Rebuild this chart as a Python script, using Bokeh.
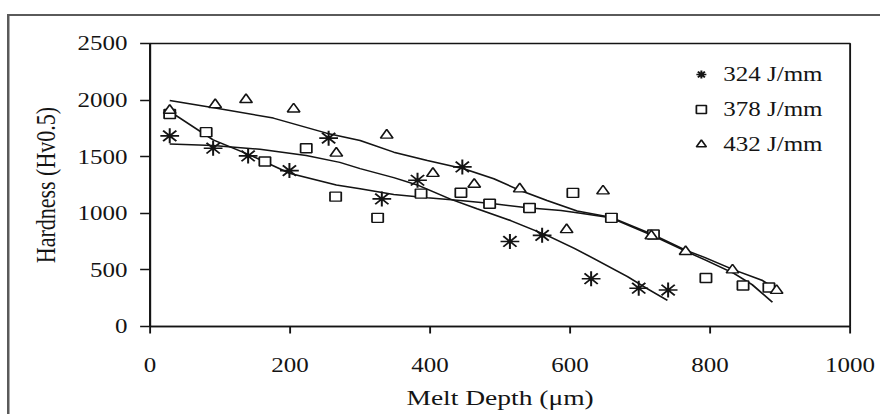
from bokeh.plotting import figure
from bokeh.models import Range1d, FixedTicker, Legend, LegendItem
from bokeh.embed import file_html
from bokeh.resources import INLINE

# --- measured hardness profiles (Hv0.5) against melt depth (um) ---
depth_324 = [28, 90, 140, 199, 255, 331, 382, 446, 514, 560, 630, 698, 740]
hard_324 = [1684, 1575, 1507, 1377, 1664, 1127, 1292, 1410, 751, 805, 422, 338, 322]

depth_378 = [28, 80, 164, 223, 265, 325, 387, 444, 485, 542, 604, 659, 719, 794, 847, 884]
hard_378 = [1877, 1717, 1457, 1575, 1147, 960, 1174, 1182, 1085, 1047, 1180, 960, 813, 429, 362, 345]

depth_432 = [28, 93, 137, 205, 266, 338, 404, 463, 528, 595, 647, 716, 765, 832, 895]
hard_432 = [1909, 1959, 2004, 1921, 1531, 1690, 1352, 1256, 1215, 855, 1197, 800, 662, 499, 318]

# --- trend curves through each data set ---
trend_x_324 = [28, 90, 157, 223, 271, 300, 348, 384, 429, 467, 515, 567, 606, 634, 682, 710, 739]
trend_y_324 = [1613, 1600, 1566, 1510, 1450, 1395, 1315, 1245, 1125, 1040, 936, 805, 690, 600, 440, 335, 230]

trend_x_378 = [28, 90, 142, 199, 266, 300, 348, 396, 443, 491, 539, 587, 615, 658, 717, 765, 792, 834, 860, 889]
trend_y_378 = [1900, 1649, 1516, 1354, 1250, 1216, 1166, 1137, 1113, 1084, 1048, 1025, 1000, 960, 805, 665, 590, 470, 370, 215]

trend_x_432 = [28, 93, 176, 252, 300, 348, 396, 448, 491, 529, 567, 610, 658, 717, 765, 792, 834, 875, 901]
trend_y_432 = [1997, 1930, 1841, 1708, 1643, 1540, 1466, 1393, 1305, 1201, 1113, 1020, 966, 815, 675, 610, 500, 406, 303]

labels = ["324 J/mm", "378 J/mm", "432 J/mm"]
x_ticks = [0, 200, 400, 600, 800, 1000]
y_ticks = [0, 500, 1000, 1500, 2000, 2500]

SERIF = "Liberation Serif"
INK = "#141414"
STRETCH = 1.25  # horizontal scale of the whole figure

p = figure(
    frame_width=560, frame_height=283,
    x_range=Range1d(0, 1000), y_range=Range1d(0, 2500),
    output_backend="svg", toolbar_location=None,
    min_border_left=112, min_border_right=25,
    min_border_top=27, min_border_bottom=88,
    background_fill_color="white", border_fill_color="white",
)
p.margin = (14, 0, 0, 7)
p.styles = {
    "border-left": "2px solid #5a5a5a",
    "border-top": "2px solid #5a5a5a",
    "transform": f"scaleX({STRETCH})",
    "transform-origin": "0 0",
}

p.grid.visible = False
p.outline_line_color = INK
p.outline_line_width = 1.5

for ax in (p.xaxis[0], p.yaxis[0]):
    ax.axis_line_color = INK
    ax.axis_line_width = 1.6
    ax.major_tick_line_color = INK
    ax.major_tick_line_width = 1.5
    ax.major_tick_in = 0
    ax.minor_tick_line_color = None
    ax.major_label_text_font = SERIF
    ax.major_label_text_font_size = "20px"
    ax.major_label_text_color = INK
    ax.axis_label_text_font = SERIF
    ax.axis_label_text_font_size = "22px"
    ax.axis_label_text_font_style = "normal"
    ax.axis_label_text_color = INK

p.xaxis.ticker = FixedTicker(ticks=x_ticks)
p.yaxis.ticker = FixedTicker(ticks=y_ticks)
p.xaxis.major_tick_out = 7
p.yaxis.major_tick_out = 8
p.xaxis.major_label_standoff = 25
p.yaxis.major_label_standoff = 10
p.xaxis.axis_label = "Melt Depth (\u03bcm)"
p.yaxis.axis_label = "Hardness (Hv0.5)"
p.xaxis.axis_label_standoff = 10
p.yaxis.axis_label_standoff = 10

# trend curves
for tx, ty in ((trend_x_324, trend_y_324), (trend_x_378, trend_y_378), (trend_x_432, trend_y_432)):
    p.line(tx, ty, line_color=INK, line_width=1.5)

# measured points
r324 = p.scatter(depth_324, hard_324, marker="asterisk", size=15,
                 line_color=INK, line_width=1.6)
r378 = p.scatter(depth_378, hard_378, marker="square", size=9,
                 fill_color="white", line_color=INK, line_width=1.4)
r432 = p.scatter(depth_432, hard_432, marker="triangle", size=10,
                 fill_color="white", line_color=INK, line_width=1.4)

legend = Legend(
    items=[LegendItem(label=labels[0], renderers=[r324]),
           LegendItem(label=labels[1], renderers=[r378]),
           LegendItem(label=labels[2], renderers=[r432])],
    location=(431, 170),
    orientation="vertical",
    padding=0, margin=0, spacing=11,
    glyph_width=20, glyph_height=24, label_height=24,
    label_standoff=8,
    label_text_font=SERIF, label_text_font_size="20px", label_text_color=INK,
    border_line_color=None, background_fill_alpha=0,
)
p.add_layout(legend, "center")

open("out.html", "w").write(file_html(p, INLINE))
